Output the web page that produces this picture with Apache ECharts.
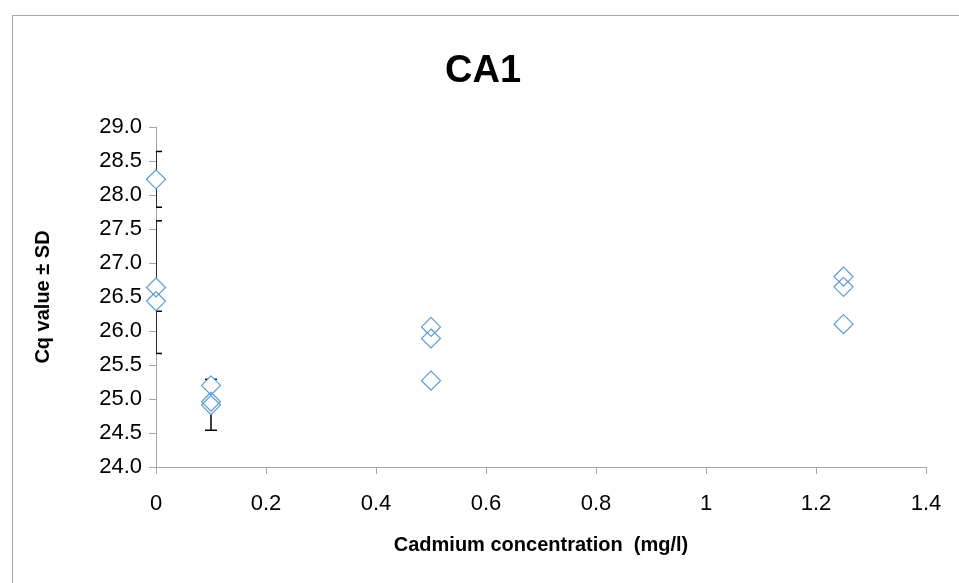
<!DOCTYPE html>
<html lang="en" style="height: 100%">
<head>
    <meta charset="UTF-8">
    <title>CA1</title>
    <script src="https://cdn.jsdelivr.net/npm/echarts@6/dist/echarts.min.js"></script>
</head>
<body style="height: 100%; margin: 0; background: #fff">
<div id="container" style="width: 959px; height: 583px"></div>

<script type="text/javascript">
    // Cq values, one [concentration, Cq] per replicate
    var cdConc = [0, 0, 0, 0.1, 0.1, 0.1, 0.5, 0.5, 0.5, 1.25, 1.25, 1.25];
    var cqValues = [28.23, 26.64, 26.44, 25.20, 24.96, 24.91, 26.06, 25.89, 25.27, 26.80, 26.65, 26.10];

    // error bars: [concentration, low, high]
    var errX = [0, 0, 0, 0.1];
    var errLow = [27.82, 25.67, 26.29, 24.54];
    var errHigh = [28.64, 27.62, 26.60, 25.29];

    var points = cdConc.map(function(x, i) { return [x, cqValues[i]]; });
    var bars = errX.map(function(x, i) { return [x, errLow[i], errHigh[i]]; });

    var font = "'Liberation Sans', Arial, sans-serif";
    var blue = '#5B9BD5';

    var dom = document.getElementById("container");
    var myChart = echarts.init(dom, null, {renderer: 'canvas'});

    var option = {
        animation: false,
        backgroundColor: '#fff',
        title: {
            text: 'CA1',
            left: 478,
            textAlign: 'center',
            top: 48,
            textStyle: {fontFamily: font, fontWeight: 'bold', fontSize: 38, color: '#000'}
        },
        graphic: [{
            type: 'rect',
            shape: {x: 12.5, y: 15.5, width: 1000, height: 1000},
            style: {fill: null, stroke: '#A6A6A6', lineWidth: 1},
            silent: true
        }],
        grid: {left: 156, right: 33, top: 127, bottom: 116},
        xAxis: {
            type: 'value',
            min: 0, max: 1.4, interval: 0.2,
            name: 'Cadmium concentration  (mg/l)',
            nameLocation: 'middle',
            nameGap: 68,
            nameTextStyle: {fontFamily: font, fontWeight: 'bold', fontSize: 20, color: '#000'},
            axisLine: {lineStyle: {color: '#A6A6A6', width: 1}},
            axisTick: {show: true, length: 7, lineStyle: {color: '#A6A6A6'}},
            axisLabel: {fontFamily: font, fontSize: 22, color: '#000', margin: 26},
            splitLine: {show: false}
        },
        yAxis: {
            type: 'value',
            min: 24, max: 29, interval: 0.5,
            name: 'Cq value \u00b1 SD',
            nameLocation: 'middle',
            nameGap: 103,
            nameTextStyle: {fontFamily: font, fontWeight: 'bold', fontSize: 20, color: '#000'},
            axisLine: {show: true, lineStyle: {color: '#A6A6A6', width: 1}},
            axisTick: {show: true, length: 7, lineStyle: {color: '#A6A6A6'}},
            axisLabel: {
                fontFamily: font, fontSize: 22, color: '#000', margin: 14,
                formatter: function(v) { return v.toFixed(1); }
            },
            splitLine: {show: false}
        },
        series: [{
            type: 'custom',
            clip: true,
            z: 1,
            data: bars,
            renderItem: function(params, api) {
                var top = api.coord([api.value(0), api.value(2)]);
                var bot = api.coord([api.value(0), api.value(1)]);
                var w = 6;
                var st = {stroke: '#000', lineWidth: 1.5};
                return {
                    type: 'group',
                    children: [
                        {type: 'line', shape: {x1: top[0], y1: top[1], x2: bot[0], y2: bot[1]}, style: st},
                        {type: 'line', shape: {x1: top[0] - w, y1: top[1], x2: top[0] + w, y2: top[1]}, style: st},
                        {type: 'line', shape: {x1: bot[0] - w, y1: bot[1], x2: bot[0] + w, y2: bot[1]}, style: st}
                    ]
                };
            }
        }, {
            // white fill under the markers
            type: 'scatter',
            z: 2,
            clip: false,
            data: points,
            symbol: 'diamond',
            symbolSize: 19,
            itemStyle: {color: '#fff', borderWidth: 0, opacity: 1}
        }, {
            // marker outlines
            type: 'scatter',
            z: 3,
            clip: false,
            data: points,
            symbol: 'diamond',
            symbolSize: 19,
            itemStyle: {color: 'rgba(0,0,0,0)', borderColor: blue, borderWidth: 1.2, opacity: 1}
        }]
    };

    myChart.setOption(option);
</script>
</body>
</html>
